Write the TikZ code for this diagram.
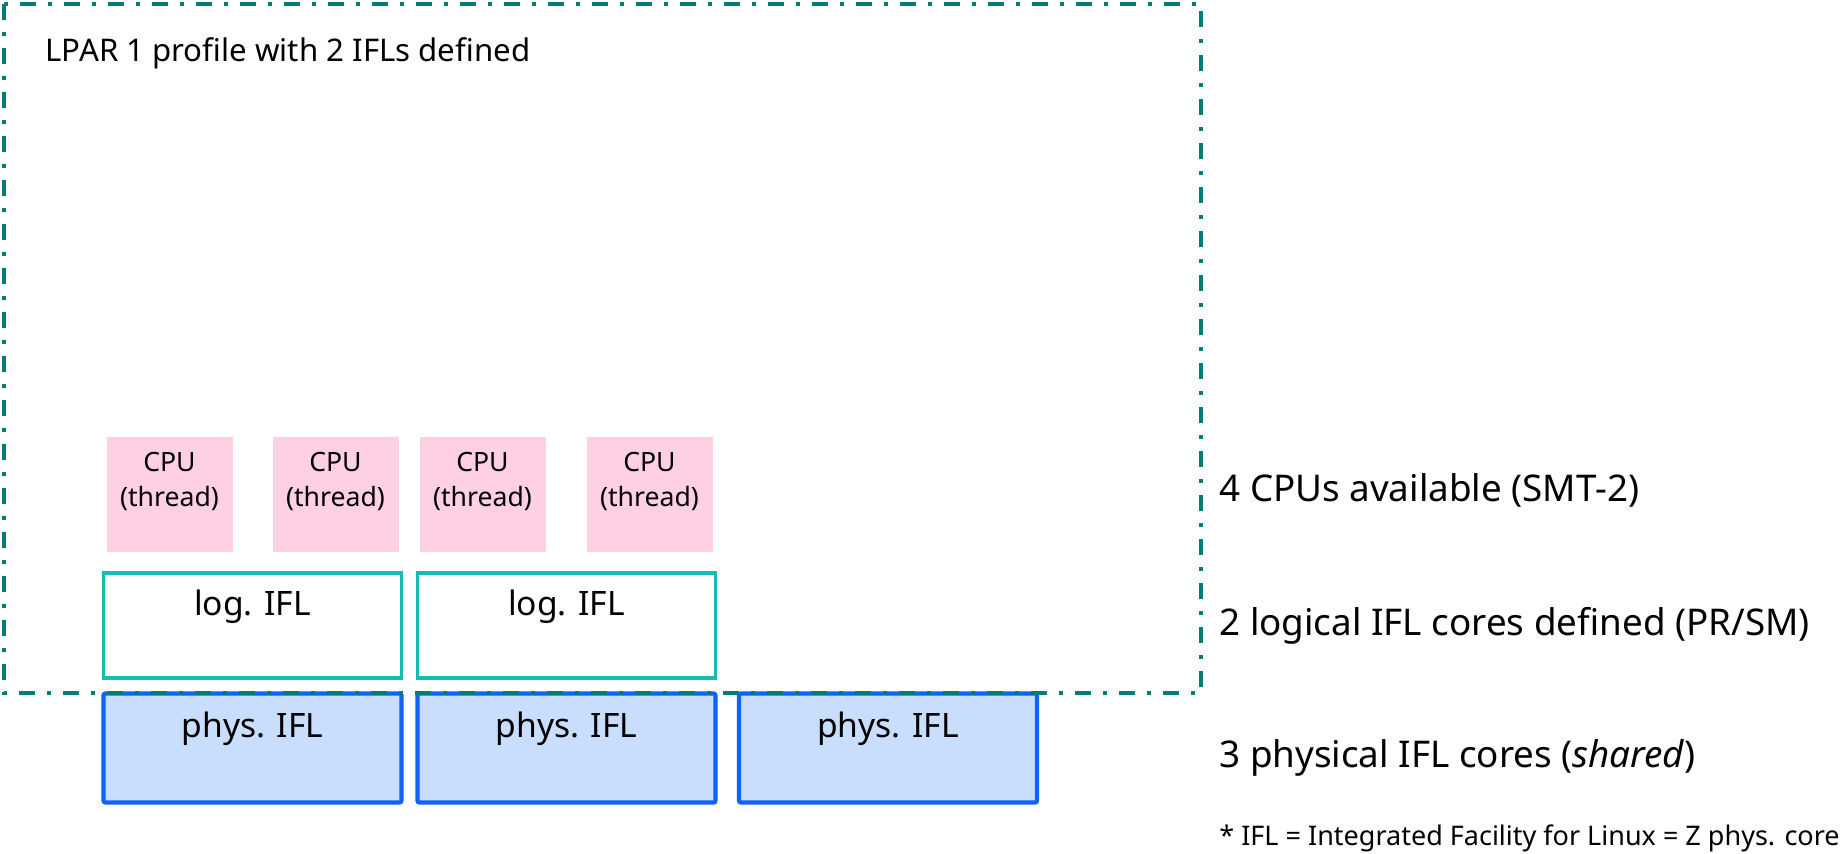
\documentclass[tikz,border=0pt]{standalone}
\usepackage{fontspec}
\setmainfont{Noto Sans}
\definecolor{lparteal}{HTML}{007D79}
\definecolor{logcyan}{HTML}{13BDB4}
\definecolor{physblue}{HTML}{0F62FE}
\definecolor{physfill}{HTML}{C9DEFD}
\definecolor{cpupink}{HTML}{FFCFE2}
\tikzset{
  cpubox/.style={rectangle, fill=cpupink, draw=none, minimum width=63pt, minimum height=57.5pt, inner sep=0pt},
  logbox/.style={rectangle, draw=logcyan, line width=1.9pt, fill=white, minimum width=149pt, minimum height=52.5pt, inner sep=0pt},
  physbox/.style={rectangle, draw=physblue, line width=2.1pt, fill=physfill, rounded corners=1pt, minimum width=149pt, minimum height=54.5pt, inner sep=0pt},
  lparframe/.style={draw=lparteal, line width=2pt, dash pattern=on 8pt off 6pt on 2pt off 6pt},
  cputext/.style={font=\fontsize{13.3}{17.6}\selectfont, align=center, inner sep=0pt},
  boxtext/.style={font=\fontsize{16.8}{20}\selectfont, inner sep=0pt},
  sidetext/.style={font=\fontsize{18.4}{22}\selectfont, anchor=west, inner sep=0pt},
}
\begin{document}
\begin{tikzpicture}[x=0.5pt,y=-0.5pt]
\useasboundingbox (0,0) rectangle (1845,854);

% CPU threads
\node[cpubox] (c1) at (169.5,494.5) {};
\node[cpubox] (c2) at (335.5,494.5) {};
\node[cpubox] (c3) at (482.5,494.5) {};
\node[cpubox] (c4) at (649.5,494.5) {};
\foreach \c in {c1,c2,c3,c4}
  \node[cputext, anchor=north] at ([yshift=-7.5pt]\c.north) {CPU\\(thread)};

% logical IFLs
\node[logbox] (l1) at (252.5,625.5) {};
\node[logbox] (l2) at (566.5,625.5) {};
\foreach \l in {l1,l2}
  \node[boxtext] at ([yshift=-18pt]\l.north) {log. IFL};

% physical IFLs
\node[physbox] (p1) at (252.5,748) {};
\node[physbox] (p2) at (566.5,748) {};
\node[physbox] (p3) at (888,748) {};
\foreach \p in {p1,p2,p3}
  \node[boxtext] at ([yshift=-18.5pt]\p.north) {phys. IFL};

% LPAR profile frame
\draw[lparframe] (4,4) rectangle (1201,693);
\node[font=\fontsize{15.6}{19}\selectfont, anchor=west, inner sep=0pt] (title) at (45,53.5) {LPAR 1 profile with 2 IFLs defined};

% side labels
\node[sidetext] (s1) at (1219,490) {4 CPUs available (SMT-2)};
\node[sidetext] (s2) at (1219,625.5) {2 logical IFL cores defined (PR/SM)};
\node[sidetext] (s3) at (1219,758) {3 physical IFL cores (\textit{shared})};
\node[font=\fontsize{13.5}{16}\selectfont, anchor=west, inner sep=0pt] (fn) at (1219,838) {* IFL = Integrated Facility for Linux = Z phys. core};
\end{tikzpicture}
\end{document}
